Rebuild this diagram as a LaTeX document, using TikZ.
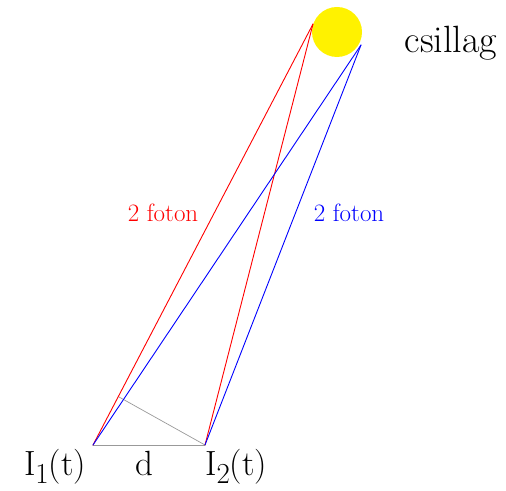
\documentclass[tikz,border=0pt]{standalone}
\usepackage{fontspec}
\usetikzlibrary{calc,positioning}
\tikzset{
  every picture/.append style={line cap=round,line join=round},
  photon red/.style={red,line width=0.9pt},
  photon blue/.style={blue,line width=0.9pt},
  base line/.style={gray!80,line width=0.7pt},
  star disk/.style={circle,fill=yellow,minimum size=50pt,inner sep=0pt},
  detector/.style={font=\fontsize{35}{35}\selectfont,inner sep=0pt,anchor=base},
  star label/.style={font=\fontsize{38}{38}\selectfont,inner sep=0pt,anchor=base},
  photon note/.style={font=\fontsize{25}{25}\selectfont,inner sep=0pt,anchor=base}
}
\newcommand{\detsub}[1]{\raisebox{-8pt}{\fontsize{29}{29}\selectfont #1}}

\begin{document}
\begin{tikzpicture}[x=1pt,y=1pt]
\useasboundingbox (0,0) rectangle (506,490);
% star and the detectors
\node[star disk] (star) at (337,458) {};
\coordinate (sr) at (313,466);
\coordinate (sb) at (361,445);
\coordinate (d1) at (93,45);
\coordinate (d2) at (205,45);
\coordinate (foot) at ($(d1)!0.115!(sr)$);
% baseline
\draw[base line] (d1) -- (d2);
\draw[base line] (d2) -- (foot);
% photons
\draw[photon red] (d1) -- (sr);
\draw[photon red] (d2) -- (sr);
\draw[photon blue] (d1) -- (sb);
\draw[photon blue] (d2) -- (sb);
% labels
\node[star label] (csillag) at (451,437) {csillag};
\node[detector] (i1) at (55,14) {I\detsub{1}(t)};
\node[detector] (dlabel) at (144,14) {d};
\node[detector] (i2) at (236,14) {I\detsub{2}(t)};
\node[photon note,red] (fred) at (163,268) {2 foton};
\node[photon note,blue] (fblue) at (349,268) {2 foton};
\end{tikzpicture}
\end{document}
